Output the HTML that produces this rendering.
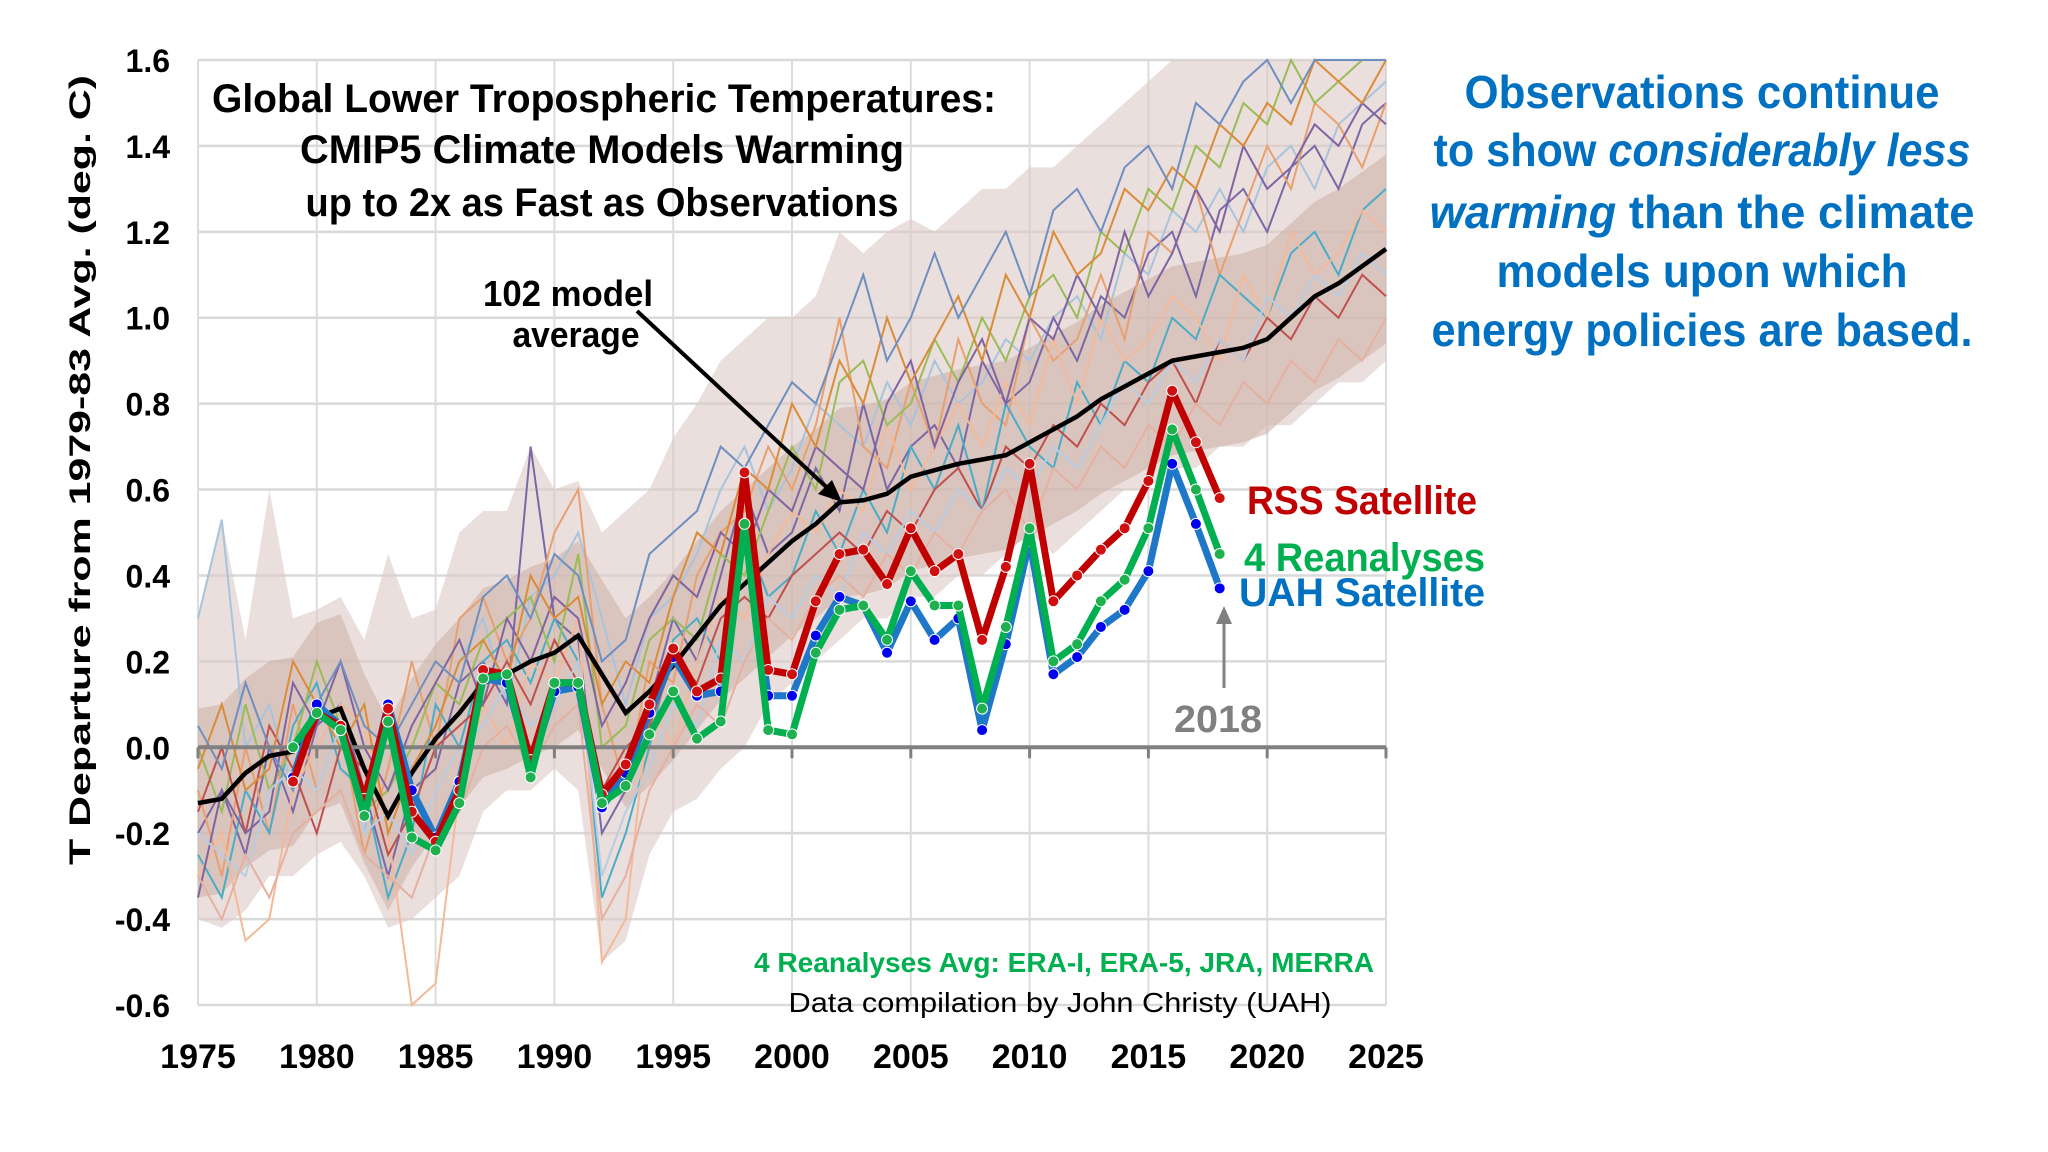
<!DOCTYPE html>
<html><head><meta charset="utf-8">
<style>
html,body{margin:0;padding:0;background:#fff;}
svg{display:block;}
text{font-family:"Liberation Sans Narrow","Liberation Sans",sans-serif;font-weight:bold;}
</style></head>
<body>
<svg id="chart" width="2048" height="1152" viewBox="0 0 2048 1152" xmlns="http://www.w3.org/2000/svg">
<g id="grid"></g>
<g id="band"></g>
<g id="models"></g>
<g id="axis"></g>
<g id="obs"></g>
<g id="labels">
  <text x="604" y="112" font-size="40" text-anchor="middle" textLength="784" lengthAdjust="spacingAndGlyphs">Global Lower Tropospheric Temperatures:</text>
  <text x="602" y="163" font-size="40" text-anchor="middle" textLength="604" lengthAdjust="spacingAndGlyphs">CMIP5 Climate Models Warming</text>
  <text x="602" y="216" font-size="40" text-anchor="middle" textLength="593" lengthAdjust="spacingAndGlyphs">up to 2x as Fast as Observations</text>
  <text x="568" y="306" font-size="36" text-anchor="middle" textLength="170" lengthAdjust="spacingAndGlyphs">102 model</text>
  <text x="576" y="347" font-size="36" text-anchor="middle" textLength="127" lengthAdjust="spacingAndGlyphs">average</text>
  <line x1="637" y1="311" x2="836" y2="496" stroke="#000" stroke-width="4"/>
  <polygon points="842,502 818,494 832,480" fill="#000"/>
  <text x="1247" y="514" font-size="40" fill="#c00000" textLength="230" lengthAdjust="spacingAndGlyphs">RSS Satellite</text>
  <text x="1244" y="571" font-size="40" fill="#00b050" textLength="241" lengthAdjust="spacingAndGlyphs">4 Reanalyses</text>
  <text x="1239" y="606" font-size="40" fill="#0070c0" textLength="246" lengthAdjust="spacingAndGlyphs">UAH Satellite</text>
  <line x1="1224" y1="688" x2="1224" y2="618" stroke="#808080" stroke-width="3"/>
  <polygon points="1224,606 1216,624 1232,624" fill="#808080"/>
  <text x="1218" y="732" font-size="38" fill="#808080" text-anchor="middle" textLength="88" lengthAdjust="spacingAndGlyphs">2018</text>
  <text x="1374" y="972" font-size="28" fill="#00b050" text-anchor="end" textLength="620" lengthAdjust="spacingAndGlyphs">4 Reanalyses Avg: ERA-I, ERA-5, JRA, MERRA</text>
  <text x="1060" y="1012" font-size="28" style="font-weight:normal" fill="#000" text-anchor="middle" textLength="543" lengthAdjust="spacingAndGlyphs">Data compilation by John Christy (UAH)</text>
  <text transform="translate(90,470) rotate(-90)" font-size="30" text-anchor="middle" style="font-family:'Liberation Sans',sans-serif" textLength="790" lengthAdjust="spacingAndGlyphs">T Departure from 1979-83 Avg. (deg. C)</text>
  <g fill="#0070c0" font-size="46" text-anchor="middle">
    <text x="1702" y="108" textLength="475" lengthAdjust="spacingAndGlyphs">Observations continue</text>
    <text x="1702" y="166" textLength="537" lengthAdjust="spacingAndGlyphs">to show <tspan font-style="italic">considerably less</tspan></text>
    <text x="1702" y="228" textLength="545" lengthAdjust="spacingAndGlyphs"><tspan font-style="italic">warming</tspan> than the climate</text>
    <text x="1702" y="287" textLength="411" lengthAdjust="spacingAndGlyphs">models upon which</text>
    <text x="1702" y="346" textLength="541" lengthAdjust="spacingAndGlyphs">energy policies are based.</text>
  </g>
</g>
</svg>
<script>
const yearStart = 1975, yearEnd = 2025;
const yTicks = [1.6,1.4,1.2,1.0,0.8,0.6,0.4,0.2,0.0,-0.2,-0.4,-0.6];
const yTickLabels = ["1.6","1.4","1.2","1.0","0.8","0.6","0.4","0.2","0.0","-0.2","-0.4","-0.6"];
const xTicks = [1975,1980,1985,1990,1995,2000,2005,2010,2015,2020,2025];
const modelMean = [-0.13,-0.12,-0.06,-0.02,-0.01,0.07,0.09,-0.05,-0.16,-0.06,0.02,0.08,0.15,0.17,0.20,0.22,0.26,0.17,0.08,0.13,0.19,0.26,0.33,0.38,0.43,0.48,0.52,0.57,0.575,0.59,0.63,0.645,0.66,0.67,0.68,0.71,0.74,0.77,0.81,0.84,0.87,0.90,0.91,0.92,0.93,0.95,1.00,1.05,1.08,1.12,1.16];
const modelUpper = [0.3,0.53,0.25,0.6,0.3,0.32,0.35,0.25,0.45,0.3,0.32,0.5,0.55,0.55,0.7,0.6,0.62,0.5,0.55,0.6,0.72,0.8,0.9,0.95,1.0,1.0,1.05,1.2,1.15,1.2,1.23,1.2,1.25,1.3,1.3,1.35,1.35,1.4,1.45,1.5,1.55,1.6,1.6,1.6,1.6,1.6,1.6,1.6,1.6,1.6,1.6];
const modelLower = [-0.4,-0.42,-0.38,-0.3,-0.3,-0.25,-0.22,-0.3,-0.42,-0.4,-0.35,-0.3,-0.15,-0.1,-0.1,-0.05,-0.1,-0.5,-0.45,-0.25,-0.15,-0.12,-0.05,0.0,0.1,0.15,0.2,0.25,0.3,0.3,0.35,0.35,0.4,0.4,0.45,0.5,0.45,0.5,0.55,0.6,0.6,0.65,0.65,0.7,0.7,0.75,0.75,0.8,0.85,0.85,0.9];
const modelRunA = [0.3,0.53,0.0,0.1,-0.1,0.0,0.1,-0.2,0.1,-0.05,0.05,0.2,0.3,0.1,0.35,0.4,0.5,0.3,0.1,0.3,0.35,0.45,0.6,0.7,0.55,0.65,0.8,0.75,0.7,0.85,0.75,0.9,0.8,0.85,0.95,0.9,1.0,1.05,0.95,1.15,1.1,1.25,1.2,1.3,1.2,1.35,1.4,1.3,1.45,1.5,1.55];
const modelRunB = [-0.2,-0.1,-0.25,0.0,-0.15,0.05,0.1,-0.1,-0.3,-0.1,-0.05,0.15,0.2,0.1,0.7,0.3,0.25,-0.2,-0.1,0.1,0.3,0.2,0.4,0.6,0.45,0.5,0.65,0.55,0.8,0.6,0.7,0.75,0.65,0.9,0.8,0.85,1.0,0.9,1.05,1.0,1.15,1.2,1.05,1.25,1.3,1.2,1.35,1.4,1.3,1.45,1.5];
const modelRunC = [-0.1,-0.3,0.0,-0.2,0.1,-0.1,0.05,-0.25,-0.05,0.2,0.0,0.3,0.35,0.2,0.3,0.5,0.6,0.1,-0.1,0.2,0.15,0.4,0.5,0.55,0.7,0.6,0.75,1.0,0.7,0.65,0.85,0.7,0.95,0.8,0.75,1.0,0.9,0.95,1.1,0.95,1.2,1.15,1.3,1.1,1.25,1.4,1.3,1.5,1.45,1.35,1.5];
const modelRunD = [-0.25,-0.35,-0.1,-0.2,0.05,0.15,-0.05,-0.1,-0.35,-0.2,0.1,0.0,0.2,0.25,0.15,0.3,0.2,-0.35,-0.2,0.0,0.25,0.3,0.2,0.5,0.35,0.4,0.55,0.45,0.6,0.5,0.7,0.6,0.75,0.55,0.8,0.7,0.65,0.85,0.75,0.9,0.85,1.0,0.95,1.1,1.05,1.0,1.15,1.2,1.1,1.25,1.3];
const modelRunE = [-0.3,-0.2,-0.45,-0.4,-0.1,0.0,0.1,0.05,-0.2,-0.6,-0.55,-0.1,0.1,0.0,0.2,0.15,0.3,-0.5,-0.4,0.1,0.0,0.2,0.35,0.3,0.45,0.55,0.5,0.6,0.55,0.75,0.6,0.7,0.8,0.7,0.85,0.75,0.95,0.8,1.0,0.9,0.95,1.05,1.0,0.9,1.1,1.0,1.2,1.1,1.15,1.25,1.2];
const modelRunF = [0.0,-0.15,0.1,-0.1,0.0,0.2,0.05,-0.15,-0.1,0.0,0.15,0.1,0.25,0.3,0.35,0.2,0.45,0.0,0.05,0.25,0.3,0.25,0.45,0.4,0.55,0.7,0.6,0.85,0.9,0.75,0.8,0.95,0.85,1.0,0.9,1.05,1.1,1.0,1.2,1.15,1.3,1.25,1.4,1.35,1.5,1.45,1.6,1.5,1.55,1.6,1.6];
const modelRunG = [-0.15,0.0,-0.2,0.05,-0.05,-0.2,0.0,-0.05,-0.25,-0.15,0.0,0.05,0.1,0.2,0.1,0.25,0.15,-0.1,0.0,0.05,0.2,0.15,0.3,0.35,0.3,0.4,0.45,0.5,0.45,0.55,0.5,0.6,0.65,0.55,0.7,0.65,0.75,0.7,0.8,0.75,0.85,0.9,0.8,0.95,0.9,1.0,0.95,1.05,1.0,1.1,1.05];
const modelRunH = [-0.35,-0.1,-0.2,-0.15,0.15,0.05,0.2,0.0,-0.1,0.05,0.15,0.25,0.1,0.3,0.2,0.35,0.3,0.05,0.15,0.3,0.4,0.35,0.5,0.45,0.6,0.55,0.7,0.65,0.6,0.8,0.9,0.7,0.85,0.95,0.8,1.0,0.95,1.1,1.0,1.2,1.05,1.15,1.3,1.2,1.4,1.3,1.35,1.45,1.4,1.5,1.45];
const modelRunI = [-0.05,0.1,-0.1,-0.05,0.2,0.1,0.0,0.1,-0.2,-0.05,0.05,0.2,0.25,0.15,0.4,0.3,0.35,0.1,0.2,0.15,0.35,0.5,0.45,0.65,0.6,0.8,0.7,0.9,0.8,1.0,0.85,0.95,1.05,0.9,1.1,1.0,1.2,1.1,1.15,1.3,1.25,1.35,1.3,1.45,1.4,1.5,1.45,1.6,1.55,1.5,1.6];
const modelRunJ = [-0.2,-0.25,-0.3,-0.1,-0.05,-0.1,0.05,-0.2,-0.15,-0.25,-0.1,0.0,0.05,0.15,0.05,0.1,0.2,-0.3,-0.15,-0.05,0.1,0.05,0.25,0.2,0.35,0.3,0.4,0.35,0.5,0.45,0.55,0.5,0.6,0.55,0.65,0.6,0.7,0.65,0.75,0.85,0.8,0.9,0.85,0.95,0.9,1.05,1.0,1.1,1.05,1.15,1.1];
const modelRunK = [0.05,-0.05,0.15,0.0,-0.1,0.1,0.2,0.05,0.0,0.1,0.2,0.15,0.35,0.4,0.3,0.45,0.4,0.2,0.25,0.45,0.5,0.55,0.7,0.65,0.75,0.85,0.8,0.95,1.1,0.9,1.0,1.15,1.0,1.1,1.2,1.05,1.25,1.3,1.2,1.35,1.4,1.3,1.5,1.45,1.55,1.6,1.5,1.6,1.6,1.6,1.6];
const modelRunL = [-0.3,-0.4,-0.25,-0.35,-0.2,-0.15,-0.1,-0.25,-0.3,-0.35,-0.2,-0.15,0.0,0.05,-0.05,0.05,0.1,-0.4,-0.3,-0.1,0.0,0.1,0.05,0.2,0.3,0.25,0.35,0.4,0.35,0.45,0.4,0.5,0.45,0.55,0.6,0.5,0.65,0.6,0.7,0.65,0.75,0.7,0.8,0.75,0.85,0.8,0.9,0.85,0.95,0.9,1.0];
const rssYears = [1979,1980,1981,1982,1983,1984,1985,1986,1987,1988,1989,1990,1991,1992,1993,1994,1995,1996,1997,1998,1999,2000,2001,2002,2003,2004,2005,2006,2007,2008,2009,2010,2011,2012,2013,2014,2015,2016,2017,2018];
const rssValues = [-0.08,0.08,0.05,-0.12,0.09,-0.15,-0.22,-0.10,0.18,0.17,-0.03,0.15,0.15,-0.11,-0.04,0.10,0.23,0.13,0.16,0.64,0.18,0.17,0.34,0.45,0.46,0.38,0.51,0.41,0.45,0.25,0.42,0.66,0.34,0.40,0.46,0.51,0.62,0.83,0.71,0.58];
const uahValues = [-0.07,0.10,0.05,-0.14,0.10,-0.10,-0.21,-0.08,0.16,0.15,-0.05,0.13,0.14,-0.14,-0.06,0.08,0.21,0.12,0.13,0.51,0.12,0.12,0.26,0.35,0.33,0.22,0.34,0.25,0.30,0.04,0.24,0.48,0.17,0.21,0.28,0.32,0.41,0.66,0.52,0.37];
const reanValues = [0.00,0.08,0.04,-0.16,0.06,-0.21,-0.24,-0.13,0.16,0.17,-0.07,0.15,0.15,-0.13,-0.09,0.03,0.13,0.02,0.06,0.52,0.04,0.03,0.22,0.32,0.33,0.25,0.41,0.33,0.33,0.09,0.28,0.51,0.20,0.24,0.34,0.39,0.51,0.74,0.60,0.45];

const X0 = 198, X1 = 1386, YTOP = 60, YBOT = 1005, VMAX = 1.6, VMIN = -0.6;
function xs(yr){ return X0 + (yr - yearStart) / (yearEnd - yearStart) * (X1 - X0); }
function ys(v){ return YTOP + (VMAX - v) / (VMAX - VMIN) * (YBOT - YTOP); }
const NS = "http://www.w3.org/2000/svg";
function mk(tag, attrs, parent){ const e = document.createElementNS(NS, tag); for (const k in attrs) e.setAttribute(k, attrs[k]); parent.appendChild(e); return e; }
function yearsOf(arr){ return arr.map((_, i) => yearStart + i); }
function pts(years, vals){ return vals.map((v, i) => xs(years[i]).toFixed(1) + "," + ys(v).toFixed(1)).join(" "); }

const grid = document.getElementById("grid");
yTicks.forEach((t, i) => {
  const l = mk("line", {x1: X0, x2: X1, y1: ys(t), y2: ys(t), stroke: "#d9d9d9", "stroke-width": 2.5}, grid);
  
  
  const tx = mk("text", {x: 170, y: ys(t) + 12, "font-size": 32, "text-anchor": "end"}, grid);
  tx.textContent = yTickLabels[i];
  
  
});
xTicks.forEach(t => {
  const l = mk("line", {x1: xs(t), x2: xs(t), y1: YTOP, y2: YBOT, stroke: "#dcdcdc", "stroke-width": 2}, grid);
  
  
  const tx = mk("text", {x: xs(t), y: 1068, "font-size": 34, "text-anchor": "middle"}, grid);
  tx.textContent = String(t);
  
  
});

const band = document.getElementById("band");
const yrs = yearsOf(modelMean);
const env = mk("polygon", {points: pts(yrs, modelUpper) + " " + pts(yrs.slice().reverse(), modelLower.slice().reverse()), fill: "#dcc9c4", opacity: 0.6}, band);


const inUp = modelMean.map(v => v + 0.22), inLo = modelMean.map(v => v - 0.22);
const core = mk("polygon", {points: pts(yrs, inUp) + " " + pts(yrs.slice().reverse(), inLo.slice().reverse()), fill: "#cfb2aa", opacity: 0.6}, band);



const models = document.getElementById("models");
const runs = [modelRunA, modelRunB, modelRunC, modelRunD, modelRunE, modelRunF, modelRunG, modelRunH, modelRunI, modelRunJ, modelRunK, modelRunL];
const runColors = ["#a8c4dc","#7a68a6","#e8a070","#4bacc6","#f3b999","#9bbb59","#c0504d","#8064a2","#d98c3a","#b7cde3","#6e8fbf","#e6b0a0"];
runs.forEach((r, i) => {
  const p = mk("polyline", {points: pts(yearsOf(r), r), fill: "none", stroke: runColors[i], "stroke-width": 2}, models);
  
  
});
const meanLine = mk("polyline", {points: pts(yrs, modelMean), fill: "none", stroke: "#000", "stroke-width": 4.5}, models);



const axis = document.getElementById("axis");
const zl = mk("line", {x1: X0, x2: X1, y1: ys(0), y2: ys(0), stroke: "#808080", "stroke-width": 4}, axis);


xTicks.forEach(t => {
  const tk = mk("line", {x1: xs(t), x2: xs(t), y1: ys(0), y2: ys(0) + 11, stroke: "#808080", "stroke-width": 3}, axis);
  
  
});

const obs = document.getElementById("obs");
function series(vals, color, dot, name){
  const g = mk("g", {}, obs);
  
  
  const p = mk("polyline", {points: pts(rssYears, vals), fill: "none", stroke: color, "stroke-width": 7, "stroke-linejoin": "round"}, g);
  
  
  vals.forEach((v, i) => {
    const c = mk("circle", {cx: xs(rssYears[i]), cy: ys(v), r: 5.5, fill: dot, stroke: "#fff", "stroke-width": 1}, g);
    
    
  });
}
series(uahValues, "#1f77c8", "#0000ee", "uah-series");
series(rssValues, "#c00000", "#d01010", "rss-series");
series(reanValues, "#00b050", "#1fb050", "reanalyses-series");
</script>
</body></html>
